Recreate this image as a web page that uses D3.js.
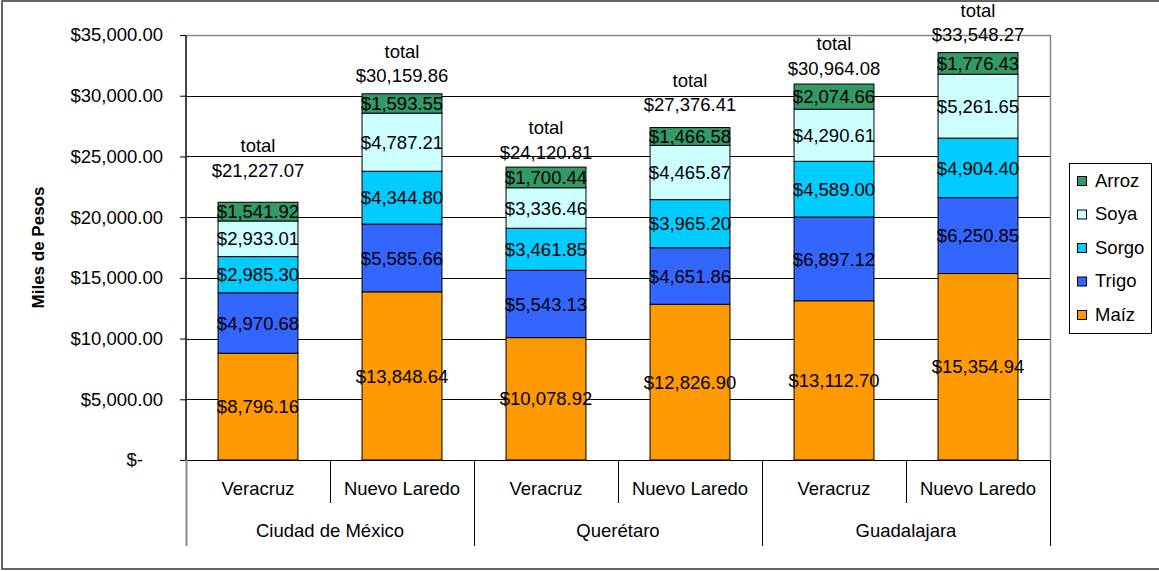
<!DOCTYPE html>
<html>
<head>
<meta charset="utf-8">
<script src="https://cdn.jsdelivr.net/npm/d3@7"></script>
<style>
  html, body { margin: 0; padding: 0; background: #fff; }
  svg { display: block; font-family: "Liberation Sans", Arial, sans-serif; }
</style>
</head>
<body>
<svg id="chart" width="1159" height="571"></svg>
<script>
// Destination cities, grouped by origin city
const groups = ["Ciudad de México", "Querétaro", "Guadalajara"];
const destinations = ["Veracruz", "Nuevo Laredo"];

// Crops, bottom of the stack first
const crops = ["Maíz", "Trigo", "Sorgo", "Soya", "Arroz"];

// Values per bar (thousands of pesos), order: CDMX-Veracruz, CDMX-NL, Qro-Veracruz, Qro-NL, Gdl-Veracruz, Gdl-NL
const maiz  = [8796.16, 13848.64, 10078.92, 12826.90, 13112.70, 15354.94];
const trigo = [4970.68, 5585.66, 5543.13, 4651.86, 6897.12, 6250.85];
const sorgo = [2985.30, 4344.80, 3461.85, 3965.20, 4589.00, 4904.40];
const soya  = [2933.01, 4787.21, 3336.46, 4465.87, 4290.61, 5261.65];
const arroz = [1541.92, 1593.55, 1700.44, 1466.58, 2074.66, 1776.43];
const totals = [21227.07, 30159.86, 24120.81, 27376.41, 30964.08, 33548.27];

// Y axis ticks
const yTicks = [0, 5000, 10000, 15000, 20000, 25000, 30000, 35000];

// Hand-placed lift (px) of each total label above its bar
const totalLabelLift = [32, 18, 15, 23, 16, 18];

const cropColors = {
  "Maíz": "#FF9900",
  "Trigo": "#3366FF",
  "Sorgo": "#00CCFF",
  "Soya": "#CCFFFF",
  "Arroz": "#339966"
};

const seriesByCrop = { "Maíz": maiz, "Trigo": trigo, "Sorgo": sorgo, "Soya": soya, "Arroz": arroz };

const bars = [];
groups.forEach(g => destinations.forEach(d => bars.push({ group: g, dest: d })));
bars.forEach((b, i) => {
  crops.forEach(c => { b[c] = seriesByCrop[c][i]; });
  b.total = totals[i];
  b.key = i;
});

const svg = d3.select("#chart");
const fontSize = 18.5;

const plot = { left: 186, right: 1050, top: 35, bottom: 460 };

const x = d3.scaleBand()
  .domain(bars.map(b => b.key))
  .range([plot.left, plot.right])
  .paddingInner(0)
  .paddingOuter(0);

const barW = x.bandwidth() * 0.555;

const y = d3.scaleLinear().domain([0, 35000]).range([plot.bottom, plot.top]);

const fmt = d3.format("$,.2f");

// Outer chart frame
svg.append("rect")
  .attr("x", 2).attr("y", 1)
  .attr("width", 1170).attr("height", 568)
  .attr("fill", "none")
  .attr("stroke", "#333").attr("stroke-width", 1.5);

// Gridlines
svg.append("g").selectAll("line")
  .data(yTicks.filter(t => t > 0 && t < 35000))
  .join("line")
  .attr("x1", plot.left).attr("x2", plot.right)
  .attr("y1", d => Math.round(y(d)) + 0.5).attr("y2", d => Math.round(y(d)) + 0.5)
  .attr("stroke", "#000").attr("stroke-width", 1);

// Plot area border (top and right)
svg.append("path")
  .attr("d", `M${plot.left},${plot.top + 0.5}H${plot.right + 0.5}V${plot.bottom}`)
  .attr("fill", "none").attr("stroke", "#888").attr("stroke-width", 1.5);

// Stacked bars
const stack = d3.stack().keys(crops);
const layers = stack(bars);

const barG = svg.append("g");
layers.forEach(layer => {
  const crop = layer.key;
  barG.append("g").selectAll("rect")
    .data(layer)
    .join("rect")
    .attr("x", d => x(d.data.key) + (x.bandwidth() - barW) / 2)
    .attr("y", d => y(d[1]))
    .attr("width", barW)
    .attr("height", d => y(d[0]) - y(d[1]))
    .attr("fill", cropColors[crop])
    .attr("stroke", "#000").attr("stroke-width", 1);
});

// Segment value labels
layers.forEach(layer => {
  barG.append("g").selectAll("text")
    .data(layer)
    .join("text")
    .attr("x", d => x(d.data.key) + x.bandwidth() / 2)
    .attr("y", d => (y(d[0]) + y(d[1])) / 2)
    .attr("dy", "0.36em")
    .attr("text-anchor", "middle")
    .attr("font-size", fontSize)
    .attr("fill", "#000")
    .text(d => fmt(d[1] - d[0]));
});

// Total labels above bars
const totG = svg.append("g");
bars.forEach((b, i) => {
  const cx = x(b.key) + x.bandwidth() / 2;
  const cy = y(b.total) - totalLabelLift[i];
  totG.append("text")
    .attr("x", cx).attr("y", cy - 24.5).attr("dy", "0.36em")
    .attr("text-anchor", "middle").attr("font-size", fontSize)
    .text("total");
  totG.append("text")
    .attr("x", cx).attr("y", cy).attr("dy", "0.36em")
    .attr("text-anchor", "middle").attr("font-size", fontSize)
    .text(fmt(b.total));
});

// Y axis
const yAxis = d3.axisLeft(y)
  .tickValues(yTicks)
  .tickSize(6)
  .tickPadding(0)
  .tickFormat(d => d === 0 ? "$-" : fmt(d));

const yG = svg.append("g")
  .attr("transform", `translate(${plot.left},0)`)
  .call(yAxis);
yG.select(".domain").attr("stroke", "#444").attr("stroke-width", 2).attr("d", `M0,${plot.top}V${plot.bottom}`);
yG.selectAll(".tick line").attr("stroke", "#000");
yG.selectAll(".tick text")
  .attr("font-size", fontSize)
  .attr("font-family", "Liberation Sans, Arial, sans-serif")
  .attr("fill", "#000")
  .attr("x", d => d === 0 ? -43 : -23);

// X axis baseline
svg.append("line")
  .attr("x1", plot.left).attr("x2", plot.right)
  .attr("y1", plot.bottom + 0.5).attr("y2", plot.bottom + 0.5)
  .attr("stroke", "#000").attr("stroke-width", 1.2);

// Category separators: between destinations (short) and between groups (long)
const boundaries = d3.range(bars.length + 1).map(i => plot.left + i * x.bandwidth());
svg.append("g").selectAll("line")
  .data(boundaries)
  .join("line")
  .attr("x1", d => Math.round(d) + 0.5).attr("x2", d => Math.round(d) + 0.5)
  .attr("y1", plot.bottom)
  .attr("y2", (d, i) => i % destinations.length === 0 ? 546 : 503)
  .attr("stroke", (d, i) => i === 0 ? "#888" : "#000")
  .attr("stroke-width", (d, i) => i === 0 ? 2 : 1);

// Destination labels
svg.append("g").selectAll("text")
  .data(bars)
  .join("text")
  .attr("x", d => x(d.key) + x.bandwidth() / 2)
  .attr("y", 488).attr("dy", "0.36em")
  .attr("text-anchor", "middle").attr("font-size", fontSize)
  .text(d => d.dest);

// Group labels
svg.append("g").selectAll("text")
  .data(groups)
  .join("text")
  .attr("x", (d, i) => plot.left + (i + 0.5) * x.bandwidth() * destinations.length)
  .attr("y", 530).attr("dy", "0.36em")
  .attr("text-anchor", "middle").attr("font-size", fontSize)
  .text(d => d);

// Y axis title
svg.append("text")
  .attr("transform", `translate(38,${(plot.top + plot.bottom) / 2}) rotate(-90)`)
  .attr("dy", "0.36em")
  .attr("text-anchor", "middle")
  .attr("font-size", 17)
  .attr("font-weight", "bold")
  .text("Miles de Pesos");

// Legend
const legendCrops = crops.slice().reverse();
const lg = svg.append("g").attr("transform", "translate(1069,163)");
lg.append("rect")
  .attr("x", 0.5).attr("y", 0.5).attr("width", 82).attr("height", 170)
  .attr("fill", "#fff").attr("stroke", "#000").attr("stroke-width", 1);
const items = lg.selectAll("g.item")
  .data(legendCrops)
  .join("g")
  .attr("class", "item")
  .attr("transform", (d, i) => `translate(0,${17 + i * 33.5})`);
items.append("rect")
  .attr("x", 8.5).attr("y", -3.5).attr("width", 9).attr("height", 9)
  .attr("fill", d => cropColors[d]).attr("stroke", "#000").attr("stroke-width", 1);
items.append("text")
  .attr("x", 26).attr("y", 0).attr("dy", "0.36em")
  .attr("font-size", fontSize)
  .text(d => d);
</script>
</body>
</html>
